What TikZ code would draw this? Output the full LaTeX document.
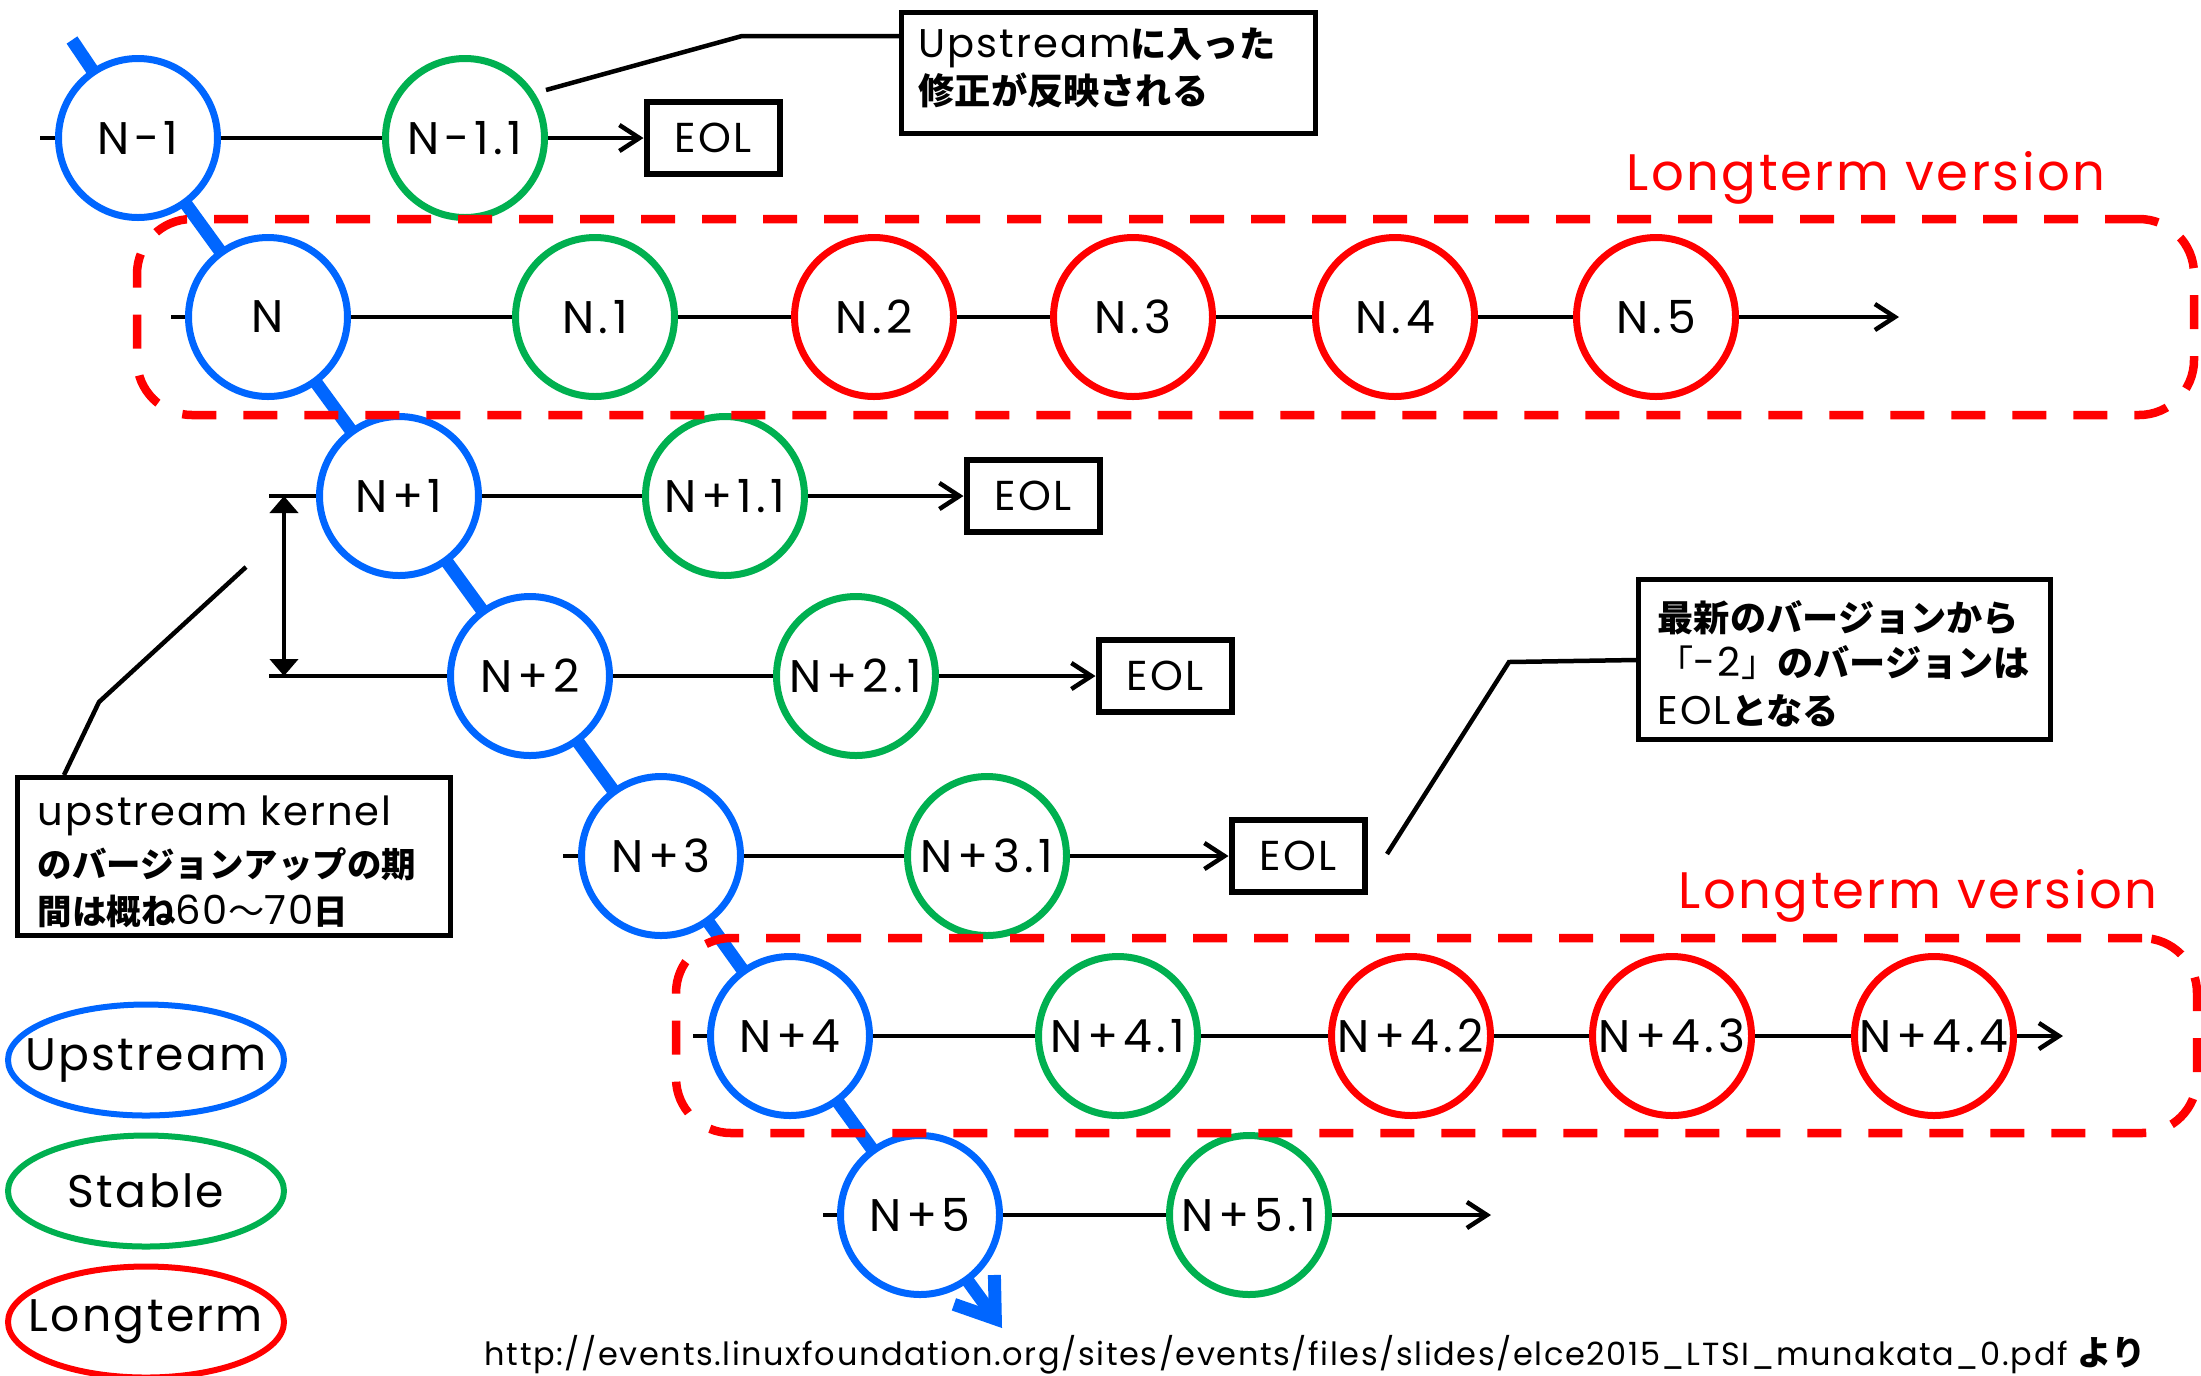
\documentclass[tikz,border=0pt]{standalone}
\usepackage{fontspec}
\setmainfont{Poppins}[LetterSpace=5]
\newfontfamily\circfont{Poppins}[LetterSpace=10]
\newfontfamily\jpfont{Noto Sans CJK JP}
\usetikzlibrary{arrows.meta,shapes.geometric,backgrounds}
\definecolor{ublue}{RGB}{0,102,255}
\definecolor{sgreen}{RGB}{0,176,80}
\definecolor{lred}{RGB}{255,0,0}
\newcommand{\jb}[1]{{\jpfont\bfseries\fontsize{10.3}{13.4}\selectfont #1}}
\newcommand{\jbs}[1]{{\jpfont\bfseries\fontsize{9.8}{13.4}\selectfont #1}}
\newcommand{\jr}[1]{{\jpfont\fontsize{10.3}{13.4}\selectfont #1}}
\begin{document}
\begin{tikzpicture}[x=0.1mm,y=-0.1mm,
  ver/.style={circle, draw, line width=0.7mm, fill=white, minimum size=15.9mm, inner sep=0pt, font=\circfont\fontsize{13}{15}\selectfont},
  up/.style={ver, draw=ublue},
  st/.style={ver, draw=sgreen},
  lt/.style={ver, draw=lred},
  eol/.style={draw, line width=0.6mm, fill=white, minimum width=13.3mm, minimum height=7.2mm, inner sep=0pt, font=\fontsize{11.9}{14}\selectfont},
  link/.style={line width=0.45mm},
  arr/.style={link, -{Straight Barb[length=2mm,width=2.6mm]}},
  trunk/.style={line width=1.3mm, draw=ublue, line join=round, -{Straight Barb[length=3.6mm,width=5mm]}},
  ltbox/.style={draw=lred, line width=0.85mm, dash pattern=on 3.4mm off 2.7mm, rounded corners=5.5mm, inner sep=0pt},
  callbox/.style={draw, line width=0.5mm, inner sep=0pt},
  ctext/.style={anchor=base west, inner sep=0pt, font=\fontsize{11.4}{13.4}\selectfont},
  ltlabel/.style={anchor=base, inner sep=0pt, text=lred, font=\fontsize{14.6}{16}\selectfont},
  legend/.style={ellipse, line width=0.6mm, minimum width=27.6mm, minimum height=11.1mm, inner sep=0pt, font=\fontsize{13}{15}\selectfont}]
\useasboundingbox (0,0) rectangle (2201,1375);

% ---------- upstream nodes ----------
\node[up] (nm1) at (138,138) {N-1};
\node[up] (n0)  at (268,317) {N};
\node[up] (n1)  at (399,496) {N+1};
\node[up] (n2)  at (530,676) {N+2};
\node[up] (n3)  at (661,856) {N+3};
\node[up] (n4)  at (790,1036) {N+4};
\node[up] (n5)  at (920,1215) {N+5};

\coordinate (top) at (72,40);
\coordinate (tip) at (1002,1328);
\begin{scope}[on background layer]
\draw[trunk] (top) -- (nm1.center) -- (n0.center) -- (n1.center) -- (n2.center) -- (n3.center) -- (n4.center) -- (n5.center) -- (tip);
\end{scope}

% ---------- other versions ----------
\node[st] (nm11) at (465,138) {N-1.1};
\node[st] (n01) at (595,317) {N.1};
\node[lt] (n02) at (874,317) {N.2};
\node[lt] (n03) at (1133,317) {N.3};
\node[lt] (n04) at (1395,317) {N.4};
\node[lt] (n05) at (1656,317) {N.5};
\node[st] (n11) at (725,496) {N+1.1};
\node[st] (n21) at (856,676) {N+2.1};
\node[st] (n31) at (987,856) {N+3.1};
\node[st] (n41) at (1118,1036) {N+4.1};
\node[lt] (n42) at (1411,1036) {N+4.2};
\node[lt] (n43) at (1672,1036) {N+4.3};
\node[lt] (n44) at (1934,1036) {N+4.4};
\node[st] (n51) at (1249,1215) {N+5.1};

% ---------- EOL boxes ----------
\node[eol] (e1) at (713,138) {EOL};
\node[eol] (e3) at (1033,496) {EOL};
\node[eol] (e4) at (1165,676) {EOL};
\node[eol] (e5) at (1298,856) {EOL};

% ---------- row lines ----------
\coordinate (snm1) at (40,138);
\coordinate (sn0) at (171,317);
\coordinate (sn1) at (269,496);
\coordinate (sn2) at (269,676);
\coordinate (sn3) at (563,856);
\coordinate (sn4) at (693,1036);
\coordinate (sn5) at (823,1215);
\coordinate (end2) at (1899,317);
\coordinate (end6) at (2063,1036);
\coordinate (end7) at (1491,1215);

\draw[link] (snm1) -- (nm1);
\draw[link] (nm1) -- (nm11);
\draw[arr] (nm11) -- (e1);

\draw[link] (sn0) -- (n0);
\draw[link] (n0) -- (n01);
\draw[link] (n01) -- (n02);
\draw[link] (n02) -- (n03);
\draw[link] (n03) -- (n04);
\draw[link] (n04) -- (n05);
\draw[arr] (n05) -- (end2);

\draw[link] (sn1) -- (n1);
\draw[link] (n1) -- (n11);
\draw[arr] (n11) -- (e3);

\draw[link] (sn2) -- (n2);
\draw[link] (n2) -- (n21);
\draw[arr] (n21) -- (e4);

\draw[link] (sn3) -- (n3);
\draw[link] (n3) -- (n31);
\draw[arr] (n31) -- (e5);

\draw[link] (sn4) -- (n4);
\draw[link] (n4) -- (n41);
\draw[link] (n41) -- (n42);
\draw[link] (n42) -- (n43);
\draw[link] (n43) -- (n44);
\draw[arr] (n44) -- (end6);

\draw[link] (sn5) -- (n5);
\draw[link] (n5) -- (n51);
\draw[arr] (n51) -- (end7);

% ---------- longterm frames ----------
\node[ltbox, minimum width=205.7mm, minimum height=19.6mm] (lt1) at (1165.5,317) {};
\node[ltbox, minimum width=152.1mm, minimum height=19.5mm] (lt2) at (1436.5,1035.5) {};
\node[ltlabel] (lt1l) at (1866,190) {Longterm version};
\node[ltlabel] (lt2l) at (1918,908) {Longterm version};

% ---------- dimension ----------
\coordinate (d1) at (284,496);
\coordinate (d2) at (284,676);
\draw[link, {Triangle[width=2.8mm,length=1.7mm]}-{Triangle[width=2.8mm,length=1.7mm]}] (d1) -- (d2);

% ---------- callout 1 ----------
\node[callbox, minimum width=41.4mm, minimum height=12.1mm, anchor=north west] (c1) at (899,10) {};
\node[ctext] (c1a) at (918,57) {Upstream\jb{に入った}};
\node[ctext] (c1b) at (918,104) {\jb{修正が反映される}};
\coordinate (c1p) at (546,90);
\coordinate (c1k) at (742,36);
\coordinate (c1e) at (899,36);
\draw[link] (c1p) -- (c1k) -- (c1e);

% ---------- callout 2 ----------
\node[callbox, minimum width=41.2mm, minimum height=16mm, anchor=north west] (c2) at (1636,577) {};
\node[ctext] (c2a) at (1657,631) {\jb{最新のバージョンから}};
\node[ctext] (c2b) at (1657,676) {\jr{「}-2\jr{」}\jb{のバージョンは}};
\node[ctext] (c2c) at (1657,724) {EOL\jb{となる}};
\coordinate (c2p) at (1387,854);
\coordinate (c2k) at (1509,662);
\coordinate (c2e) at (1636,660);
\draw[link] (c2p) -- (c2k) -- (c2e);

% ---------- callout 3 ----------
\node[callbox, minimum width=43.3mm, minimum height=15.8mm, anchor=north west] (c3) at (15,775) {};
\node[ctext] (c3a) at (37,825) {upstream kernel};
\node[ctext] (c3b) at (37,877) {\jbs{のバージョンアップの期}};
\node[ctext] (c3c) at (37,924) {\jbs{間は概ね}60\jr{～}70\jbs{日}};
\coordinate (c3p) at (246,567);
\coordinate (c3k) at (99,702);
\coordinate (c3e) at (64,775);
\draw[link] (c3p) -- (c3k) -- (c3e);

% ---------- legend ----------
\node[legend, draw=ublue] (lgu) at (146,1060) {\makebox[0pt]{Upstream}};
\node[legend, draw=sgreen] (lgs) at (146,1191) {\makebox[0pt]{Stable}};
\node[legend, draw=lred] (lgl) at (146,1322) {\makebox[0pt]{Longterm}};

% ---------- source ----------
\node[anchor=base west, inner sep=0pt, font=\fontsize{9.1}{11}\selectfont] (src) at (484,1365) {http://events.linuxfoundation.org/sites/events/files/slides/elce2015\_LTSI\_munakata\_0.pdf {\jpfont\bfseries\fontsize{9.8}{11}\selectfont より}};
\end{tikzpicture}
\end{document}
